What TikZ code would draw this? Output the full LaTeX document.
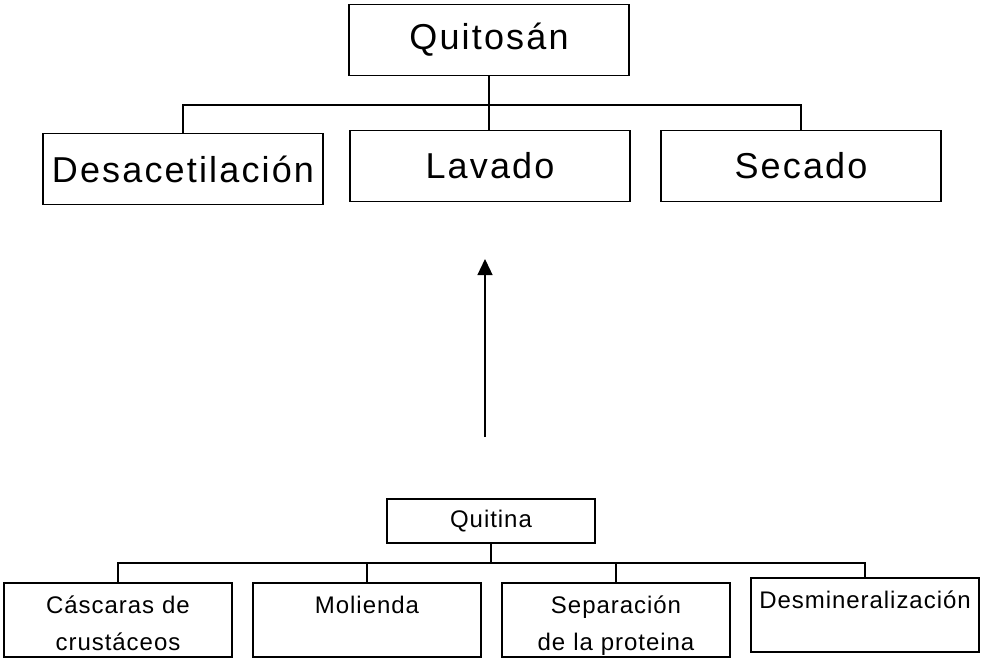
\documentclass[tikz,border=0pt]{standalone}
\usepackage{fontspec}
\setmainfont{Liberation Sans}
\newfontfamily\bigfam[LetterSpace=6]{Liberation Sans}
\newfontfamily\lowfam[LetterSpace=4]{Liberation Sans}
\newcommand{\bigtxt}{\bigfam\fontsize{36}{43}\selectfont}
\newcommand{\lowtxt}{\lowfam\fontsize{24}{29}\selectfont}
\usetikzlibrary{arrows.meta}

\begin{document}
\begin{tikzpicture}[x=1pt,y=-1pt,
  bigbox/.style={draw, line width=1.5pt, minimum width=280pt, minimum height=71pt, inner sep=3pt, font=\bigtxt},
  midbox/.style={draw, line width=1.5pt, minimum width=208pt, minimum height=44pt, inner sep=3pt, font=\lowtxt},
  lowbox/.style={draw, line width=1.5pt, minimum width=228pt, text width=222pt, align=center, inner sep=3pt, text height=27pt, text depth=41pt, font=\lowtxt},
  link/.style={line width=1.3pt}]
  \useasboundingbox (0,0) rectangle (984,658);
  \node[bigbox] (quitosan) at (489,40) {Quitosán};
  \node[bigbox] (desac) at (183,169) {Desacetilación};
  \node[bigbox] (lavado) at (490,166) {Lavado};
  \node[bigbox] (secado) at (801,166) {Secado};
  \node[midbox] (quitina) at (491,521) {Quitina};
  \node[lowbox] (cascaras) at (118,620) {Cáscaras de\\[8pt]crustáceos};
  \node[lowbox] (molienda) at (367,620) {Molienda};
  \node[lowbox] (separacion) at (616,620) {Separación\\[8pt]de la proteina};
  \node[lowbox] (desmin) at (865,615) {Desmineralización};
  \coordinate (tjoin) at (489,105);
  \coordinate (bjoin) at (491,563);
  \coordinate (atail) at (485,437);
  \coordinate (ahead) at (485,259);
  \draw[link] (quitosan.south) -- (tjoin) -- (tjoin |- lavado.north);
  \draw[link] (desac.north) |- (tjoin) -| (secado.north);
  \draw[link] (quitina) -- (bjoin);
  \draw[link] (cascaras.north) |- (bjoin) -| (desmin.north);
  \draw[link] (molienda.north) -- (molienda.north |- bjoin);
  \draw[link] (separacion.north) -- (separacion.north |- bjoin);
  \draw[link, -{Triangle[length=16pt,width=15pt]}] (atail) -- (ahead);
\end{tikzpicture}
\end{document}
